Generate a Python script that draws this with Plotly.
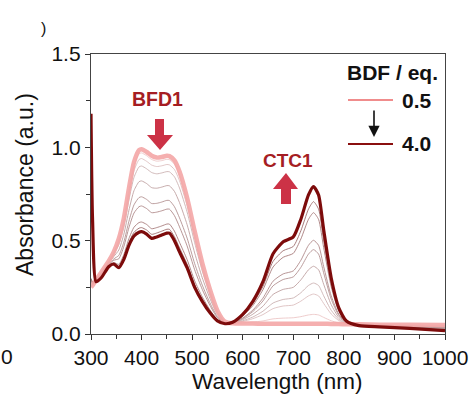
import plotly.graph_objects as go

# ---------------- data ----------------
wl_uv = [300, 303, 310, 320, 335, 345, 355, 365, 375, 385, 395, 400, 410, 420, 430, 440,
         450, 455, 465, 475, 490, 505, 520, 535, 550, 565]
wl_nir = [580, 600, 620, 640, 660, 680, 700, 715, 730, 740, 750, 760, 775, 790, 805,
          830, 870, 930, 1000]

eq_labels = ["0.5", "i1", "i2", "i3", "i4", "i5", "i6", "i7", "i8", "4.0"]

uv_vals = [
    [0.25, 0.26, 0.29, 0.33, 0.39, 0.44, 0.51, 0.62, 0.78, 0.92, 0.985, 0.99, 0.975, 0.955, 0.945, 0.948, 0.955, 0.953, 0.93, 0.87, 0.73, 0.55, 0.38, 0.24, 0.125, 0.066],
    [0.252, 0.261, 0.29, 0.329, 0.389, 0.437, 0.503, 0.61, 0.766, 0.902, 0.965, 0.97, 0.955, 0.935, 0.926, 0.929, 0.936, 0.934, 0.911, 0.851, 0.713, 0.536, 0.371, 0.234, 0.123, 0.066],
    [0.256, 0.262, 0.289, 0.327, 0.387, 0.433, 0.492, 0.595, 0.746, 0.875, 0.935, 0.94, 0.925, 0.905, 0.897, 0.901, 0.908, 0.906, 0.881, 0.821, 0.688, 0.516, 0.357, 0.226, 0.119, 0.065],
    [0.26, 0.264, 0.288, 0.324, 0.384, 0.427, 0.478, 0.575, 0.718, 0.839, 0.895, 0.90, 0.885, 0.865, 0.858, 0.863, 0.870, 0.869, 0.842, 0.782, 0.654, 0.489, 0.338, 0.214, 0.114, 0.064],
    [0.269, 0.268, 0.286, 0.318, 0.378, 0.415, 0.45, 0.535, 0.663, 0.768, 0.816, 0.82, 0.806, 0.784, 0.781, 0.787, 0.795, 0.794, 0.764, 0.704, 0.586, 0.434, 0.301, 0.192, 0.104, 0.062],
    [0.279, 0.272, 0.284, 0.313, 0.373, 0.402, 0.421, 0.493, 0.604, 0.692, 0.731, 0.735, 0.721, 0.699, 0.70, 0.707, 0.716, 0.715, 0.682, 0.622, 0.514, 0.377, 0.262, 0.168, 0.093, 0.06],
    [0.284, 0.274, 0.283, 0.309, 0.369, 0.395, 0.403, 0.469, 0.57, 0.648, 0.682, 0.686, 0.672, 0.65, 0.653, 0.66, 0.669, 0.669, 0.634, 0.574, 0.472, 0.344, 0.239, 0.154, 0.087, 0.058],
    [0.294, 0.278, 0.281, 0.304, 0.364, 0.383, 0.373, 0.426, 0.511, 0.572, 0.597, 0.60, 0.587, 0.564, 0.57, 0.579, 0.589, 0.589, 0.551, 0.491, 0.399, 0.285, 0.199, 0.13, 0.076, 0.056],
    [0.298, 0.279, 0.28, 0.301, 0.362, 0.378, 0.363, 0.411, 0.49, 0.545, 0.567, 0.57, 0.557, 0.534, 0.541, 0.551, 0.561, 0.561, 0.521, 0.462, 0.374, 0.265, 0.185, 0.121, 0.073, 0.055],
    [1.18, 0.62, 0.28, 0.30, 0.36, 0.375, 0.355, 0.40, 0.475, 0.525, 0.545, 0.548, 0.535, 0.512, 0.52, 0.53, 0.54, 0.54, 0.50, 0.44, 0.355, 0.25, 0.175, 0.115, 0.07, 0.055],
]

nir_vals = [
    [0.057, 0.056, 0.056, 0.055, 0.055, 0.055, 0.055, 0.055, 0.055, 0.055, 0.055, 0.055, 0.054, 0.053, 0.052, 0.052, 0.05, 0.049, 0.048],
    [0.057, 0.059, 0.064, 0.07, 0.081, 0.085, 0.087, 0.093, 0.102, 0.105, 0.102, 0.089, 0.071, 0.059, 0.053, 0.052, 0.049, 0.048, 0.046],
    [0.058, 0.067, 0.082, 0.104, 0.136, 0.15, 0.155, 0.176, 0.204, 0.214, 0.204, 0.164, 0.107, 0.072, 0.056, 0.05, 0.047, 0.045, 0.042],
    [0.059, 0.071, 0.091, 0.122, 0.166, 0.185, 0.193, 0.221, 0.26, 0.273, 0.26, 0.205, 0.127, 0.079, 0.057, 0.05, 0.046, 0.043, 0.039],
    [0.06, 0.077, 0.106, 0.149, 0.212, 0.239, 0.25, 0.29, 0.344, 0.363, 0.344, 0.267, 0.157, 0.089, 0.06, 0.049, 0.045, 0.041, 0.035],
    [0.06, 0.082, 0.12, 0.177, 0.258, 0.292, 0.306, 0.357, 0.428, 0.452, 0.428, 0.328, 0.187, 0.1, 0.062, 0.048, 0.044, 0.039, 0.032],
    [0.061, 0.086, 0.128, 0.192, 0.283, 0.322, 0.338, 0.395, 0.475, 0.502, 0.475, 0.362, 0.204, 0.106, 0.063, 0.048, 0.043, 0.037, 0.03],
    [0.062, 0.096, 0.152, 0.237, 0.359, 0.411, 0.432, 0.509, 0.614, 0.65, 0.614, 0.464, 0.253, 0.123, 0.067, 0.046, 0.04, 0.034, 0.024],
    [0.062, 0.1, 0.162, 0.255, 0.389, 0.446, 0.469, 0.553, 0.669, 0.709, 0.669, 0.504, 0.273, 0.13, 0.068, 0.046, 0.039, 0.032, 0.021],
    [0.063, 0.105, 0.175, 0.28, 0.43, 0.494, 0.52, 0.615, 0.745, 0.79, 0.745, 0.56, 0.30, 0.14, 0.07, 0.045, 0.038, 0.03, 0.018],
]

x_ticks = [300, 400, 500, 600, 700, 800, 900, 1000]
y_ticks = [0.0, 0.5, 1.0, 1.5]

# ---------------- styling ----------------
line_colors = ["#f4a7a7", "#ecc6c6", "#dcc0c0", "#ccb2b2", "#bfa2a2", "#b39292",
               "#b08a8a", "#a77c7c", "#9d6c6c", "#7d0b0b"]
line_widths = [4.5, 0.9, 0.9, 0.9, 0.9, 0.9, 0.9, 0.9, 0.9, 3.2]

FONT = "Liberation Sans, Arial, sans-serif"

fig = go.Figure()
order = [1, 2, 3, 4, 5, 6, 7, 8, 0, 9]
for i in order:
    fig.add_trace(go.Scatter(
        x=wl_uv + wl_nir, y=uv_vals[i] + nir_vals[i], mode="lines",
        line=dict(color=line_colors[i], width=line_widths[i], shape="spline", smoothing=0.6),
        opacity=0.9 if i == 0 else 1.0,
        name=eq_labels[i], showlegend=False, hoverinfo="skip"))

# plot area in pixels
L, R, T, B = 91, 445, 54, 334
W, H = 475, 396


def px(x):
    return (x - L) / (R - L)


def py(y):
    return (B - y) / (B - T)


axis_common = dict(ticks="outside", ticklen=5, tickwidth=1.2, tickcolor="#333",
                   showline=True, linecolor="#444", linewidth=1.3, mirror=True,
                   showgrid=False, zeroline=False, automargin=False,
                   tickfont=dict(size=21, family=FONT, color="#111"))

fig.update_layout(
    width=W, height=H,
    margin=dict(l=L, r=W - R, t=T, b=H - B, autoexpand=False),
    paper_bgcolor="white", plot_bgcolor="white",
    font=dict(family=FONT, color="#111"),
    xaxis=dict(range=[300, 1000], tickvals=x_ticks, ticktext=[str(v) for v in x_ticks],
               minor=dict(dtick=50, ticks="outside", ticklen=4, tickcolor="#333", showgrid=False),
               **axis_common),
    yaxis=dict(range=[0, 1.5], tickvals=y_ticks, ticktext=["0.0", "0.5", "1.0", "1.5"],
               minor=dict(dtick=0.25, ticks="outside", ticklen=4, tickcolor="#333", showgrid=False),
               **axis_common),
)

BOLD = "Liberation Sans, Arial, sans-serif"
ann = []
# axis titles
ann.append(dict(x=px(277), y=py(381), xref="paper", yref="paper", text="Wavelength (nm)",
                showarrow=False, font=dict(size=22.5, family=FONT, color="#111"),
                xanchor="center", yanchor="middle"))
ann.append(dict(x=px(25), y=py(185), xref="paper", yref="paper", text="Absorbance (a.u.)",
                showarrow=False, textangle=-90, font=dict(size=23, family=FONT, color="#111"),
                xanchor="center", yanchor="middle"))
# BFD1 / CTC1 labels
ann.append(dict(x=px(157), y=py(99), xref="paper", yref="paper", text="<b>BFD1</b>",
                showarrow=False, font=dict(size=19.5, family=BOLD, color="#a51d23"),
                xanchor="center", yanchor="middle"))
ann.append(dict(x=px(288), y=py(160), xref="paper", yref="paper", text="<b>CTC1</b>",
                showarrow=False, font=dict(size=19, family=BOLD, color="#a51d23"),
                xanchor="center", yanchor="middle"))
# legend text
ann.append(dict(x=px(440), y=py(72), xref="paper", yref="paper", text="<b>BDF / eq.</b>",
                showarrow=False, font=dict(size=21, family=BOLD, color="#111"),
                xanchor="right", yanchor="middle"))
ann.append(dict(x=px(400), y=py(100), xref="paper", yref="paper", text="<b>0.5</b>",
                showarrow=False, font=dict(size=21, family=BOLD, color="#111"),
                xanchor="left", yanchor="middle"))
ann.append(dict(x=px(400), y=py(143), xref="paper", yref="paper", text="<b>4.0</b>",
                showarrow=False, font=dict(size=21, family=BOLD, color="#111"),
                xanchor="left", yanchor="middle"))
# black arrow in legend
ann.append(dict(x=px(374), y=py(137), ax=0, ay=-28, xref="paper", yref="paper",
                axref="pixel", ayref="pixel", text="", showarrow=True, arrowhead=2,
                arrowsize=1.4, arrowwidth=1.6, arrowcolor="#111"))
# stray fragments from neighbouring panel
ann.append(dict(x=px(43), y=py(28), xref="paper", yref="paper", text=")", showarrow=False,
                font=dict(size=16, family=FONT, color="#111"), xanchor="center", yanchor="middle"))
ann.append(dict(x=px(-1), y=py(356), xref="paper", yref="paper", text="0", showarrow=False,
                font=dict(size=21, family=FONT, color="#111"), xanchor="left", yanchor="middle"))

fig.update_layout(annotations=ann)


def path(points):
    s = "M " + " L ".join(f"{px(a):.5f},{py(b):.5f}" for a, b in points) + " Z"
    return s


red_arrow = "#cc3246"
shapes = [
    # legend sample lines
    dict(type="line", xref="paper", yref="paper", x0=px(348), x1=px(393), y0=py(100), y1=py(100),
         line=dict(color="#f08c8c", width=2)),
    dict(type="line", xref="paper", yref="paper", x0=px(348), x1=px(393), y0=py(144), y1=py(144),
         line=dict(color="#8a0f0f", width=2.2)),
    # BFD down arrow
    dict(type="path", xref="paper", yref="paper",
         path=path([(155, 119), (164, 119), (164, 135), (173, 135), (160, 150), (147, 135), (155, 135)]),
         fillcolor=red_arrow, line=dict(width=0)),
    # CTC up arrow
    dict(type="path", xref="paper", yref="paper",
         path=path([(281, 204), (291, 204), (291, 189), (298, 189), (286, 173), (273, 189), (281, 189)]),
         fillcolor=red_arrow, line=dict(width=0)),
]
fig.update_layout(shapes=shapes)

fig.write_html("out.html", config={"displayModeBar": False},
               post_script="document.body.style.margin='0';document.body.style.overflow='hidden';")
